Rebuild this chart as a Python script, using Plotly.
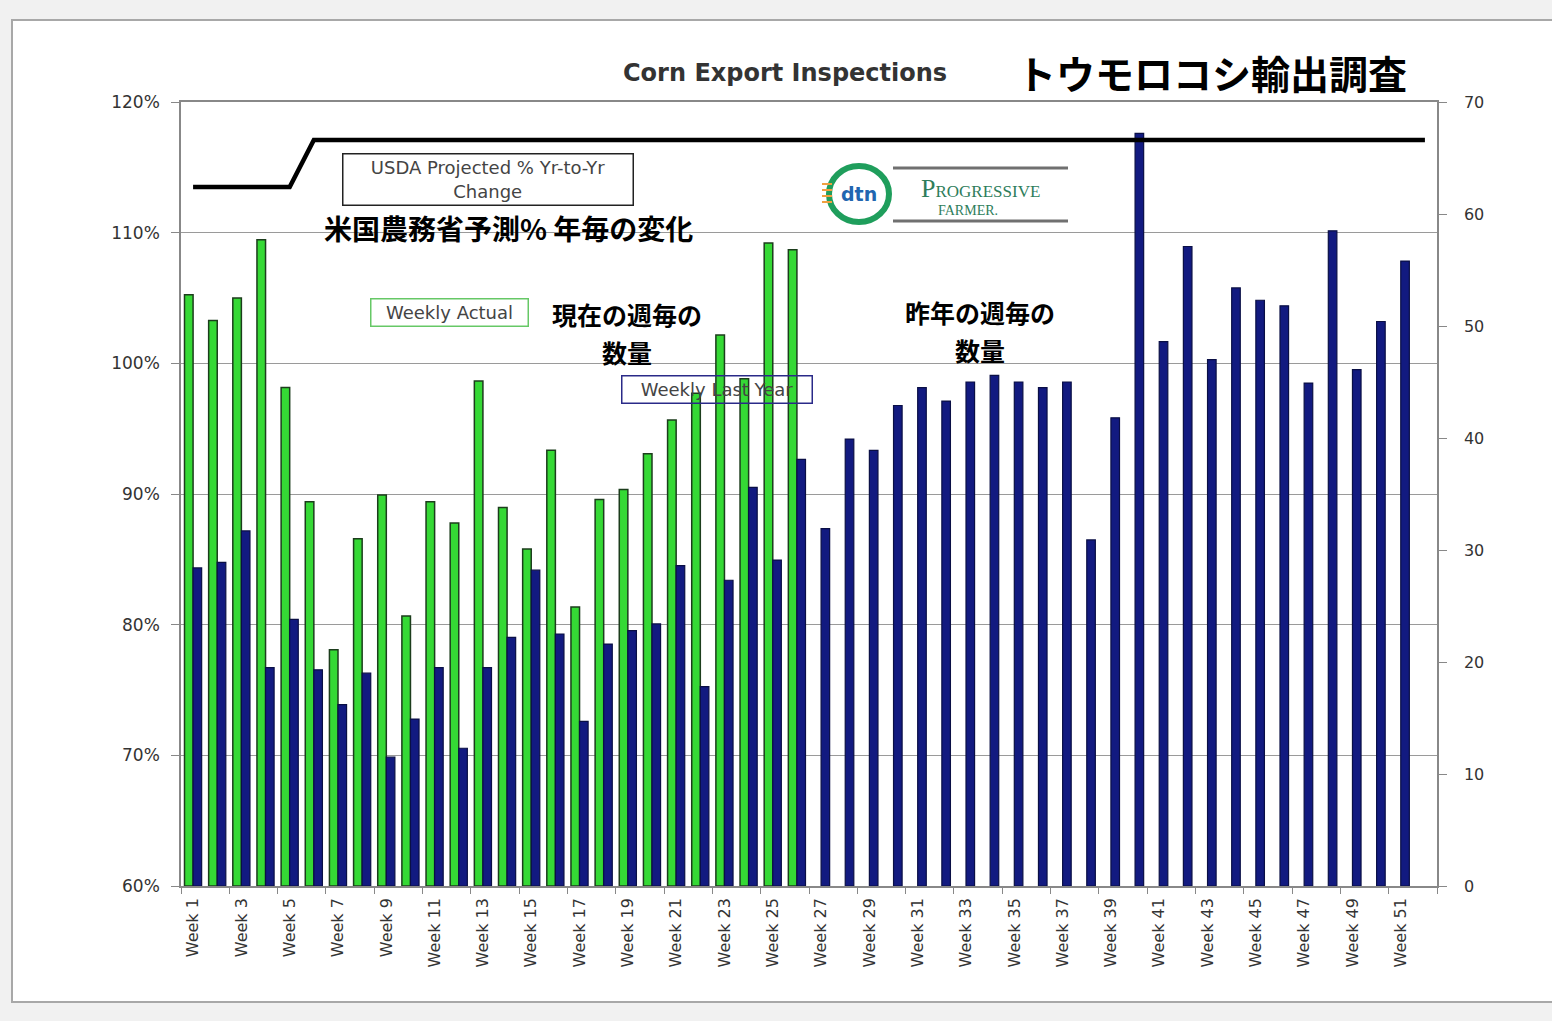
import plotly.graph_objects as go

weeks = ["Week 1", "Week 2", "Week 3", "Week 4", "Week 5", "Week 6", "Week 7", "Week 8",
         "Week 9", "Week 10", "Week 11", "Week 12", "Week 13", "Week 14", "Week 15", "Week 16",
         "Week 17", "Week 18", "Week 19", "Week 20", "Week 21", "Week 22", "Week 23", "Week 24",
         "Week 25", "Week 26", "Week 27", "Week 28", "Week 29", "Week 30", "Week 31", "Week 32",
         "Week 33", "Week 34", "Week 35", "Week 36", "Week 37", "Week 38", "Week 39", "Week 40",
         "Week 41", "Week 42", "Week 43", "Week 44", "Week 45", "Week 46", "Week 47", "Week 48",
         "Week 49", "Week 50", "Week 51", "Week 52"]

weekly_actual = [52.8, 50.5, 52.5, 57.7, 44.5, 34.3, 21.1, 31.0, 34.9, 24.1, 34.3, 32.4, 45.1,
                 33.8, 30.1, 38.9, 24.9, 34.5, 35.4, 38.6, 41.6, 44.0, 49.2, 45.3, 57.4, 56.8,
                 None, None, None, None, None, None, None, None, None, None, None, None, None,
                 None, None, None, None, None, None, None, None, None, None, None, None, None]

weekly_last_year = [28.4, 28.9, 31.7, 19.5, 23.8, 19.3, 16.2, 19.0, 11.5, 14.9, 19.5, 12.3, 19.5,
                    22.2, 28.2, 22.5, 14.7, 21.6, 22.8, 23.4, 28.6, 17.8, 27.3, 35.6, 29.1, 38.1,
                    31.9, 39.9, 38.9, 42.9, 44.5, 43.3, 45.0, 45.6, 45.0, 44.5, 45.0, 30.9, 41.8,
                    67.2, 48.6, 57.1, 47.0, 53.4, 52.3, 51.8, 44.9, 58.5, 46.1, 50.4, 55.8, None]

usda_projected = [1.135, 1.135, 1.135, 1.135, 1.135, 1.171, 1.171, 1.171, 1.171, 1.171, 1.171,
                  1.171, 1.171, 1.171, 1.171, 1.171, 1.171, 1.171, 1.171, 1.171, 1.171, 1.171,
                  1.171, 1.171, 1.171, 1.171, 1.171, 1.171, 1.171, 1.171, 1.171, 1.171, 1.171,
                  1.171, 1.171, 1.171, 1.171, 1.171, 1.171, 1.171, 1.171, 1.171, 1.171, 1.171,
                  1.171, 1.171, 1.171, 1.171, 1.171, 1.171, 1.171, 1.171]

W, H = 1552, 1021
L, R, T, B = 181, 115, 102, 135
PW, PH = W - L - R, H - T - B


def px(x):
    return (x - L) / PW


def py(y):
    return (H - B - y) / PH


FONT = "DejaVu Sans"
CJK = "Noto Sans CJK JP"

fig = go.Figure()
fig.add_trace(go.Bar(x=weeks, y=weekly_actual, name="Weekly Actual", yaxis="y",
                     marker=dict(color="#35d935", line=dict(color="#1c3d1c", width=1.5))))
fig.add_trace(go.Bar(x=weeks, y=weekly_last_year, name="Weekly Last Year", yaxis="y",
                     marker=dict(color="#121a80", line=dict(color="#0a0f45", width=1.2))))
fig.add_trace(go.Scatter(x=weeks, y=usda_projected, name="USDA Projected % Yr-to-Yr Change",
                         yaxis="y2", mode="lines", line=dict(color="black", width=4.5)))

shapes = [
    # outer white frame
    dict(type="rect", xref="paper", yref="paper", x0=px(12), x1=px(1560), y0=py(1002), y1=py(20),
         fillcolor="white", line=dict(color="#a8a8a8", width=2), layer="below"),
    # logo ring
    dict(type="circle", xref="paper", yref="paper", x0=px(829), x1=px(889), y0=py(222), y1=py(166),
         line=dict(color="#1f9e5c", width=6), fillcolor="rgba(0,0,0,0)"),
    dict(type="line", xref="paper", yref="paper", x0=px(893), x1=px(1068), y0=py(168), y1=py(168),
         line=dict(color="#707070", width=3)),
    dict(type="line", xref="paper", yref="paper", x0=px(893), x1=px(1068), y0=py(221), y1=py(221),
         line=dict(color="#707070", width=3)),
]
for yy in (184, 190, 196, 202):
    shapes.append(dict(type="line", xref="paper", yref="paper", x0=px(822), x1=px(832),
                       y0=py(yy), y1=py(yy), line=dict(color="#f0a040", width=2)))

annotations = [
    dict(text="<b>Corn Export Inspections</b>", x=px(785), y=py(73), font=dict(family=FONT, size=24, color="#333")),
    dict(text="<b>トウモロコシ輸出調査</b>", x=px(1212), y=py(72), font=dict(family=CJK, size=39, color="black")),
    dict(text="<b>米国農務省予測% 年毎の変化</b>", x=px(508), y=py(228), font=dict(family=CJK, size=28, color="black")),
    dict(text="<b>現在の週毎の</b>", x=px(627), y=py(314), font=dict(family=CJK, size=25, color="black")),
    dict(text="<b>数量</b>", x=px(627), y=py(352), font=dict(family=CJK, size=25, color="black")),
    dict(text="<b>昨年の週毎の</b>", x=px(980), y=py(312), font=dict(family=CJK, size=25, color="black")),
    dict(text="<b>数量</b>", x=px(980), y=py(350), font=dict(family=CJK, size=25, color="black")),
    dict(text="USDA Projected % Yr-to-Yr<br>Change", x=px(487.5), y=py(179), width=287, height=48,
         bgcolor="white", bordercolor="#222", borderwidth=1.5, borderpad=1,
         font=dict(family=FONT, size=18, color="#444")),
    dict(text="Weekly Actual", x=px(449), y=py(312), width=154, height=24,
         bgcolor="white", bordercolor="#66c866", borderwidth=1.5, borderpad=1,
         font=dict(family=FONT, size=18, color="#444")),
    dict(text="Weekly Last Year", x=px(716.5), y=py(389), width=187, height=24,
         bgcolor="rgba(255,255,255,0)", bordercolor="#2a2a88", borderwidth=1.5, borderpad=1,
         font=dict(family=FONT, size=18, color="#444")),
    dict(text="<b>dtn</b>", x=px(859), y=py(194), font=dict(family=FONT, size=19, color="#2266b0")),
    dict(text="P<span style='font-size:17px'>ROGRESSIVE</span>", x=px(980), y=py(189),
         font=dict(family="Liberation Serif", size=26, color="#2e7d5b")),
    dict(text="FARMER.", x=px(968), y=py(210), font=dict(family="Liberation Serif", size=14, color="#2e7d5b")),
]
for a in annotations:
    a.update(xref="paper", yref="paper", showarrow=False, xanchor="center", yanchor="middle")

fig.update_layout(
    width=W, height=H, autosize=False,
    margin=dict(l=L, r=R, t=T, b=B),
    paper_bgcolor="#f1f1f1", plot_bgcolor="white",
    barmode="group", bargap=0.29, bargroupgap=0.0,
    showlegend=False,
    font=dict(family=FONT, color="#333"),
    xaxis=dict(type="category", tickmode="linear", tick0=0, dtick=2, tickangle=-90,
               tickson="boundaries", ticks="outside", ticklen=6, tickcolor="#888",
               showline=True, linecolor="#888", linewidth=1.5, mirror=True,
               showgrid=False, ticklabelstandoff=4,
               tickfont=dict(family=FONT, size=16, color="#333")),
    yaxis=dict(side="right", range=[0, 70], dtick=10, showgrid=False, zeroline=False,
               showline=True, linecolor="#888", linewidth=1.5, ticks="outside", ticklen=8,
               tickcolor="#888", ticklabelstandoff=14,
               tickfont=dict(family=FONT, size=16, color="#333")),
    yaxis2=dict(side="left", overlaying="y", range=[0.6, 1.2], dtick=0.1, tickformat=".0%",
                showgrid=True, gridcolor="#9a9a9a", gridwidth=1.2, zeroline=False,
                showline=True, linecolor="#888", linewidth=1.5, ticks="outside", ticklen=8,
                tickcolor="#888", ticklabelstandoff=8,
                tickfont=dict(family=FONT, size=17, color="#333")),
    shapes=shapes,
    annotations=annotations,
)

fig.write_html("out.html", config={"displayModeBar": False},
               post_script="document.body.style.margin='0';document.body.style.overflow='hidden';")
